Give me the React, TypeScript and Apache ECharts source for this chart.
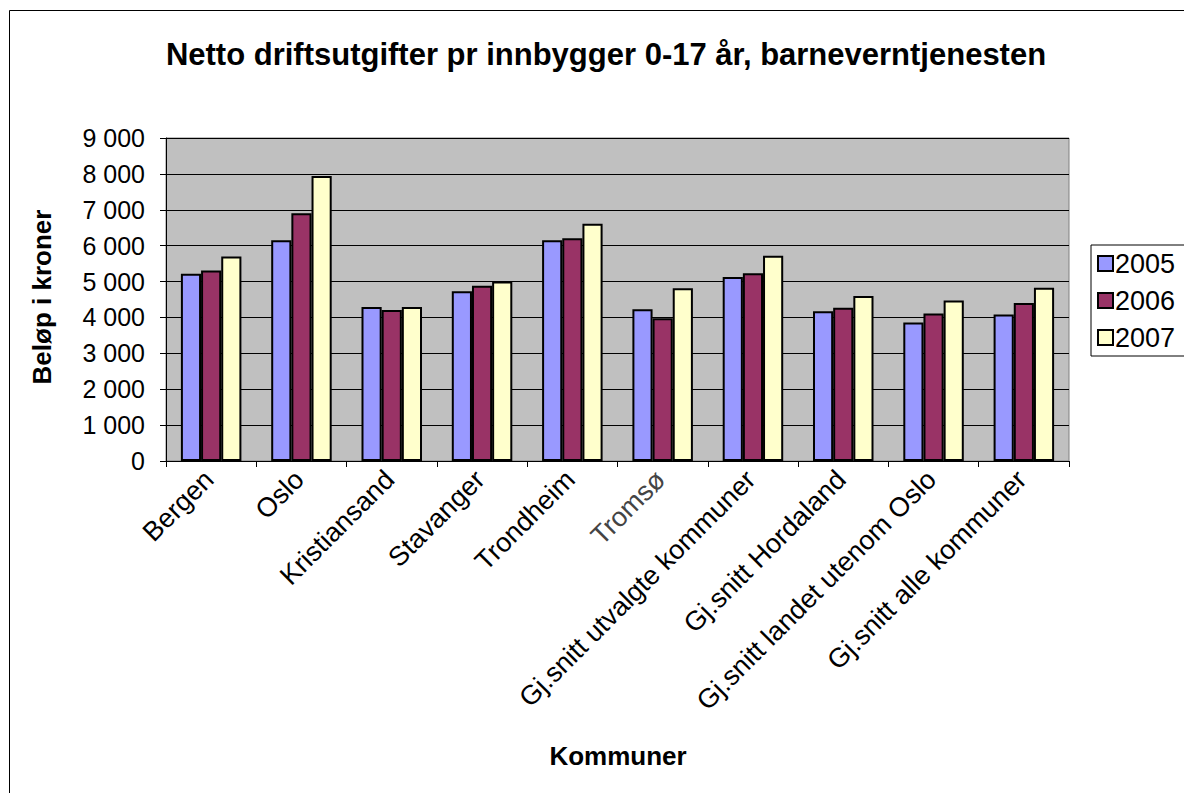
import React, { useEffect, useRef } from "react";
import * as echarts from "echarts";

const categories = [
  "Bergen",
  "Oslo",
  "Kristiansand",
  "Stavanger",
  "Trondheim",
  "Tromsø",
  "Gj.snitt utvalgte kommuner",
  "Gj.snitt Hordaland",
  "Gj.snitt landet utenom Oslo",
  "Gj.snitt alle kommuner",
];
const years = ["2005", "2006", "2007"];
const values2005 = [5220, 6150, 4290, 4730, 6150, 4230, 5130, 4170, 3860, 4080];
const values2006 = [5310, 6900, 4210, 4880, 6210, 3980, 5230, 4270, 4110, 4400];
const values2007 = [5700, 7940, 4290, 5000, 6610, 4810, 5720, 4600, 4470, 4830];
const colors = ["#9999FF", "#993366", "#FFFFCC"];

const FONT = "Liberation Sans, Arial, sans-serif";

export default function App() {
  const ref = useRef<HTMLDivElement>(null);
  useEffect(() => {
    document.body.style.margin = "0";
    const chart = echarts.init(ref.current!, undefined, { renderer: "svg" });
    const seriesData = [values2005, values2006, values2007];
    chart.setOption({
      animation: false,
      backgroundColor: "#ffffff",
      textStyle: { fontFamily: FONT },
      title: {
        text: "Netto driftsutgifter pr innbygger 0-17 år, barneverntjenesten",
        left: 601,
        textAlign: "center",
        top: 34,
        textStyle: { fontSize: 31, fontWeight: "bold", color: "#000", fontFamily: FONT },
      },
      legend: {
        orient: "vertical",
        left: 1091,
        top: 245,
        padding: [5, 20, 5, 6],
        itemGap: 10,
        itemWidth: 15,
        itemHeight: 15,
        icon: "rect",
        borderColor: "#000",
        borderWidth: 1,
        data: years,
        textStyle: { fontSize: 27, lineHeight: 26, color: "#000", fontFamily: FONT, padding: [0, 0, 0, -3] },
      },
      grid: { left: 166, top: 138, right: 115, bottom: 332, containLabel: false, show: true, backgroundColor: "#C0C0C0", borderColor: "#808080", borderWidth: 1 },
      xAxis: {
        type: "category",
        data: categories,
        axisLine: { show: true, lineStyle: { color: "#000", width: 1 } },
        axisTick: { show: true, length: 6, lineStyle: { color: "#000" } },
        axisLabel: {
          rotate: 45,
          fontSize: 27,
          color: (v: string) => (v === "Tromsø" ? "#444" : "#000"),
          margin: 12,
          padding: [0, 3, 34, 0],
          fontFamily: FONT,
          interval: 0,
        },
      },
      yAxis: {
        type: "value",
        min: 0,
        max: 9000,
        interval: 1000,
        axisLine: { show: true, lineStyle: { color: "#000", width: 1 } },
        axisTick: { show: true, length: 6, lineStyle: { color: "#000" } },
        splitLine: { show: true, lineStyle: { color: "#000", width: 1 } },
        axisLabel: {
          fontSize: 25,
          color: "#000",
          margin: 21,
          fontFamily: FONT,
          formatter: (v: number) => String(v).replace(/\B(?=(\d{3})+(?!\d))/g, " "),
        },
      },
      series: years.map((y, i) => ({
        name: y,
        type: "bar",
        data: seriesData[i],
        barGap: "0%",
        barCategoryGap: "33%",
        itemStyle: { color: colors[i], borderColor: "#000", borderWidth: 2 },
      })),
      graphic: [
        {
          type: "rect",
          shape: { x: 9.5, y: 10.5, width: 1200, height: 800 },
          style: { fill: "none", stroke: "#000", lineWidth: 1 },
          silent: true,
        },
        {
          type: "text",
          x: 42,
          y: 297,
          rotation: Math.PI / 2,
          style: {
            text: "Beløp i kroner",
            fontSize: 26,
            fontWeight: "bold",
            fontFamily: FONT,
            fill: "#000",
            align: "center",
            verticalAlign: "middle",
          },
        },
        {
          type: "text",
          x: 618,
          y: 756,
          style: {
            text: "Kommuner",
            fontSize: 26,
            fontWeight: "bold",
            fontFamily: FONT,
            fill: "#000",
            align: "center",
            verticalAlign: "middle",
          },
        },
      ],
    });
    return () => chart.dispose();
  }, []);
  return <div ref={ref} style={{ width: 1184, height: 793 }} />;
}
